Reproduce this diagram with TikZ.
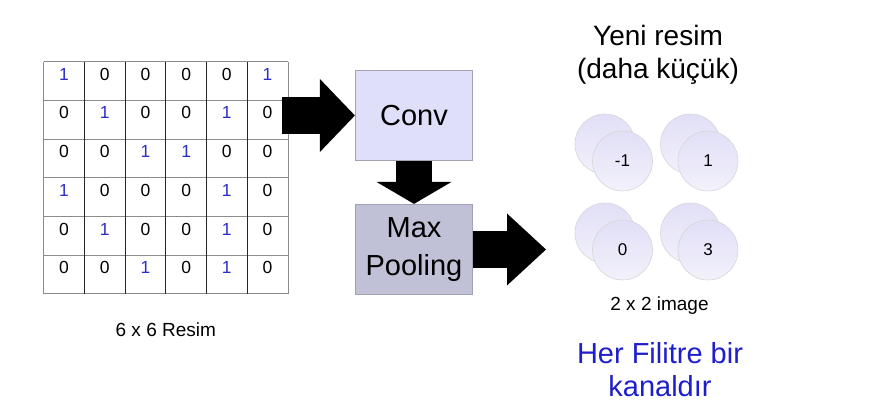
\documentclass[tikz,border=0pt]{standalone}
\usepackage{fontspec}
\setmainfont{Liberation Sans}
\usetikzlibrary{arrows.meta,shapes}
\definecolor{numblue}{HTML}{2C2CC8}
\definecolor{textblue}{HTML}{1E1ECC}
\definecolor{gridgray}{HTML}{8C8C8C}
\definecolor{convfill}{HTML}{DFDFF9}
\definecolor{poolfill}{HTML}{C0C0D6}
\definecolor{boxedge}{HTML}{A2A2B4}
\definecolor{disctop}{HTML}{E1DFF6}
\definecolor{discbot}{HTML}{F2F1FB}
\tikzstyle{blockarrow} = [line width=37pt, draw=black]
\tikzstyle{procbox} = [draw=boxedge, line width=1.2pt, minimum width=117pt, minimum height=90pt, inner sep=0pt, font=\fontsize{29}{38}\selectfont, align=center]
\tikzstyle{cellnum} = [anchor=base, inner sep=0pt, font=\fontsize{17.5}{20}\selectfont]
\tikzstyle{disc} = [circle, draw=black!16, line width=0.6pt, top color=disctop, bottom color=discbot, minimum size=60pt, inner sep=0pt, font=\fontsize{17}{19}\selectfont]
\tikzstyle{caption} = [anchor=base, inner sep=0pt, font=\fontsize{19}{22}\selectfont]

\begin{document}
\begin{tikzpicture}[x=1pt, y=-1pt]

        \useasboundingbox (0,0) rectangle (887,411);

        % 6 x 6 input image: grid lines
        \foreach \r in {0,...,6}
            \draw[gridgray, line width=0.9pt] (43.7,61.7+38.7*\r) -- (288,61.7+38.7*\r);
        \foreach \c in {1,...,5}
            \draw[black!85, line width=0.9pt] (43.7+40.7*\c,61.7) -- (43.7+40.7*\c,293.9);
        \draw[gridgray, line width=0.9pt] (43.7,61.7) -- (43.7,293.9);
        \draw[gridgray, line width=0.9pt] (288,61.7) -- (288,293.9);

        % 6 x 6 input image: pixel values
        \foreach \row [count=\r from 0] in {{1,0,0,0,0,1},{0,1,0,0,1,0},{0,0,1,1,0,0},{1,0,0,0,1,0},{0,1,0,0,1,0},{0,0,1,0,1,0}}
            \foreach \v [count=\c from 0] in \row {
                \ifnum\v=1 \def\numcol{numblue}\else\def\numcol{black}\fi
                \node[cellnum, text=\numcol] (px\r\c) at (64.05+40.7*\c,80.3+38.7*\r) {\v};
            }
        \node[caption] (imgcap) at (165.8,336.7) {6 x 6 Resim};

        % Conv and Max Pooling stages
        \node[procbox, fill=convfill] (conv) at (414,115.5) {Conv};
        \node[procbox, fill=poolfill] (pool) at (414,249.5) {Max\\Pooling};

        % Output: 2 x 2 image, two channels per pixel
        \node[disc] (b1) at (605,144) {};
        \node[disc] (f1) at (622.5,161) {-1};
        \node[disc] (b2) at (690.5,144) {};
        \node[disc] (f2) at (708,161) {1};
        \node[disc] (b3) at (605,233) {};
        \node[disc] (f3) at (622.5,250) {0};
        \node[disc] (b4) at (690.5,233) {};
        \node[disc] (f4) at (708,250) {3};
        \node[caption] (outcap) at (659.5,311) {2 x 2 image};

        % Titles on the right (base = last line)
        \node[anchor=base, inner sep=0pt, align=center, font=\fontsize{28}{32.6}\selectfont] (title) at (658,78.3) {Yeni resim\\(daha küçük)};
        \node[anchor=base, inner sep=0pt, align=center, text=textblue, font=\fontsize{29}{33.4}\selectfont] (note) at (660,396.7) {Her Filitre bir\\kanaldır};

        % Block arrows between stages
        \coordinate (imgout) at (282,115.5);
        \coordinate (outin) at (546,249.5);
        \draw[blockarrow, -{Triangle[length=35pt, width=73pt, line width=0pt]}] (imgout) -- (conv.west);    % image -> Conv
        \draw[blockarrow, line width=36pt, -{Triangle[length=22pt, width=75pt, line width=0pt]}] (conv.south) -- (pool.north);   % Conv -> Max Pooling
        \draw[blockarrow, -{Triangle[length=39pt, width=72pt, line width=0pt]}] (pool.east) -- (outin);   % Max Pooling -> output

\end{tikzpicture}
\end{document}
